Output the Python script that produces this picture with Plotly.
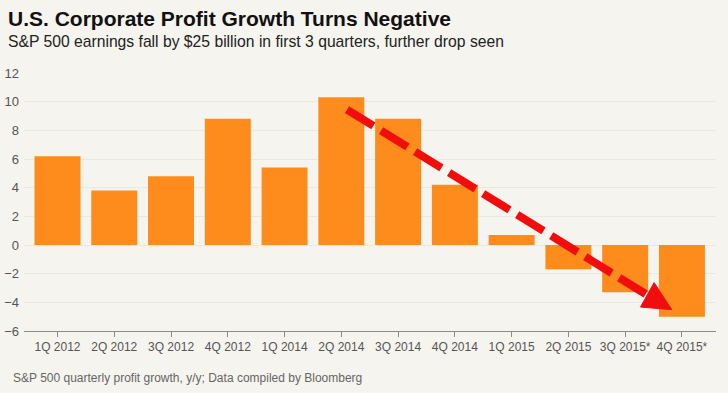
import plotly.graph_objects as go

categories = ["1Q 2012", "2Q 2012", "3Q 2012", "4Q 2012", "1Q 2014", "2Q 2014",
              "3Q 2014", "4Q 2014", "1Q 2015", "2Q 2015", "3Q 2015*", "4Q 2015*"]
growth = [6.2, 3.8, 4.8, 8.8, 5.4, 10.3, 8.8, 4.2, 0.7, -1.7, -3.3, -5.0]
y_ticks = [-6, -4, -2, 0, 2, 4, 6, 8, 10, 12]

# decorative trend arrow (data units: category index, percent)
arrow_start = (5.10, 9.45)
arrow_end = (10.36, -3.42)
head_pts = [(10.51, -2.62), (10.27, -4.33), (10.82, -4.51)]

BG = "#f5f4ee"
ORANGE = "#fd8c1c"
RED = "#f20d0d"
FONT = "Liberation Sans, Arial, sans-serif"

fig = go.Figure()
fig.add_trace(go.Bar(x=categories, y=growth, marker=dict(color=ORANGE, line=dict(width=0)),
                     hoverinfo="x+y"))

head_path = "M {},{} L {},{} L {},{} Z".format(*[v for p in head_pts for v in p])
fig.update_layout(
    width=728, height=393,
    margin=dict(l=24, r=12, t=73, b=62, autoexpand=False),
    paper_bgcolor=BG, plot_bgcolor=BG,
    bargap=0.19,
    showlegend=False,
    font=dict(family=FONT, color="#555555"),
    xaxis=dict(type="category", range=[-0.59, 11.6], showgrid=False,
               showline=True, linecolor="#8a8a8a", linewidth=1,
               ticks="outside", ticklen=5, tickcolor="#8a8a8a",
               tickfont=dict(size=12, color="#555555"), automargin=False),
    yaxis=dict(range=[-6, 12], tickvals=y_ticks, showgrid=True,
               gridcolor="#e9e8e1", gridwidth=1, zeroline=False,
               tickfont=dict(size=13, color="#555555"), ticks="",
               ticklabelstandoff=4, automargin=False),
    shapes=[
        dict(type="line", xref="x", yref="y",
             x0=arrow_start[0], y0=arrow_start[1], x1=arrow_end[0], y1=arrow_end[1],
             line=dict(color=RED, width=8, dash="31px,9px")),
        dict(type="path", xref="x", yref="y", path=head_path,
             fillcolor=RED, line=dict(color=RED, width=1)),
    ],
    annotations=[
        dict(text="<b>U.S. Corporate Profit Growth Turns Negative</b>", xref="paper", yref="paper",
             x=(6 - 24) / 692, y=(330.7 - 18) / 258, xanchor="left", yanchor="middle",
             showarrow=False, font=dict(size=21, color="#111111", family=FONT)),
        dict(text="S&P 500 earnings fall by $25 billion in first 3 quarters, further drop seen",
             xref="paper", yref="paper",
             x=(6 - 24) / 692, y=(330.7 - 41) / 258, xanchor="left", yanchor="middle",
             showarrow=False, font=dict(size=15.7, color="#222222", family=FONT)),
        dict(text="S&P 500 quarterly profit growth, y/y; Data compiled by Bloomberg",
             xref="paper", yref="paper",
             x=(11 - 24) / 692, y=(330.7 - 378) / 258, xanchor="left", yanchor="middle",
             showarrow=False, font=dict(size=12, color="#666666", family=FONT)),
    ],
)

fig.write_html("out.html", config={"displayModeBar": False},
               post_script="document.body.style.margin='0';document.body.style.background='%s';" % BG)
